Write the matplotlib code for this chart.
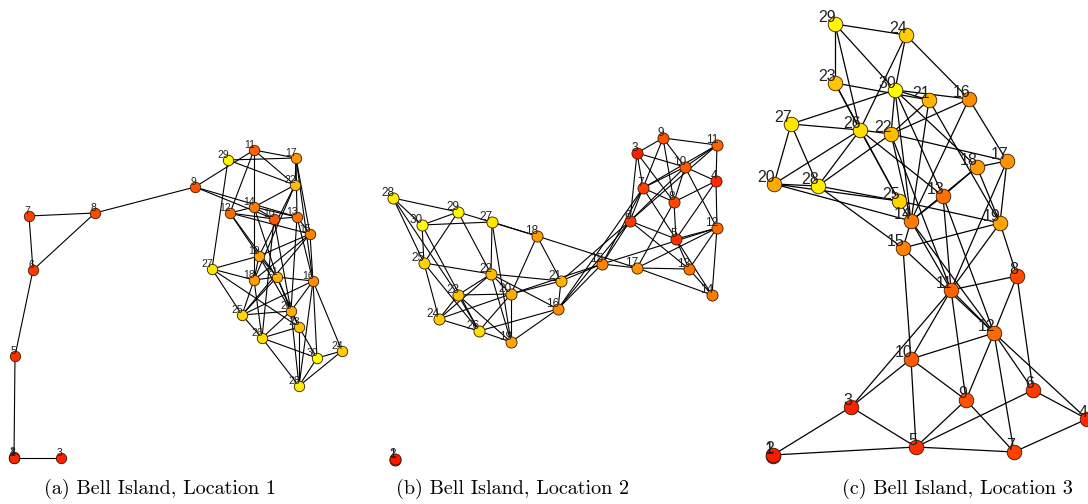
import matplotlib
matplotlib.use("Agg")
import matplotlib.pyplot as plt
from matplotlib.collections import LineCollection

# node positions (pixel layout), node id -> (x, y)
pos_a = {
    1: (14, 458), 2: (14, 457), 3: (61, 458), 4: (14, 458), 5: (15, 356),
    6: (33, 270), 7: (29, 216), 8: (95, 213), 9: (195, 187), 10: (274, 219),
    11: (254, 150), 12: (230, 213), 13: (297, 217), 14: (254, 207), 15: (310, 234),
    16: (313, 281), 17: (296, 158), 18: (254, 280), 19: (259, 256), 20: (291, 311),
    21: (277, 277), 22: (295, 185), 23: (299, 327), 24: (342, 351), 25: (242, 315),
    26: (262, 338), 27: (212, 269), 28: (299, 386), 29: (228, 160), 30: (317, 358),
}
edges_a = [
    (1, 3), (1, 5), (5, 6), (6, 7), (6, 8), (7, 8), (8, 9), (9, 11), (9, 10), (9, 13),
    (11, 17), (29, 17), (29, 22), (29, 27), (11, 14), (11, 12), (11, 22), (17, 22),
    (17, 15), (17, 13), (17, 16), (22, 14), (22, 19), (22, 18), (12, 14), (12, 10),
    (12, 15), (12, 19), (12, 21), (14, 10), (14, 13), (14, 18), (14, 21), (10, 13),
    (10, 20), (10, 26), (13, 15), (13, 16), (13, 20), (15, 19), (15, 16), (15, 18),
    (15, 25), (19, 27), (19, 18), (19, 21), (19, 20), (27, 18), (27, 25), (27, 23),
    (18, 21), (18, 25), (18, 26), (21, 16), (21, 20), (21, 25), (21, 23), (16, 20),
    (16, 25), (16, 30), (16, 24), (16, 28), (25, 26), (25, 20), (20, 23), (20, 26),
    (20, 28), (26, 23), (26, 30), (26, 28), (23, 30), (23, 28), (30, 24), (30, 28),
    (28, 24),
]

pos_b = {
    1: (395, 460), 2: (395, 459), 3: (637, 153), 4: (716, 181), 5: (676, 239),
    6: (630, 221), 7: (643, 188), 8: (674, 202), 9: (663, 138), 10: (685, 167),
    11: (717, 145), 12: (717, 228), 13: (689, 269), 14: (712, 295), 15: (602, 264),
    16: (558, 309), 17: (637, 268), 18: (537, 236), 19: (511, 342), 20: (511, 294),
    21: (561, 281), 22: (491, 274), 23: (458, 295), 24: (439, 319), 25: (424, 263),
    26: (479, 331), 27: (492, 222), 28: (393, 198), 29: (458, 212), 30: (422, 225),
}
edges_b = [
    (28, 29), (29, 18), (27, 18), (28, 30), (28, 25), (28, 23), (30, 29), (30, 27),
    (30, 25), (30, 26), (29, 25), (29, 22), (27, 22), (27, 19), (18, 21), (18, 20),
    (18, 17), (25, 22), (22, 21), (25, 24), (25, 26), (22, 23), (22, 24), (22, 20),
    (22, 16), (22, 19), (23, 20), (23, 24), (23, 26), (23, 19), (24, 26), (24, 20),
    (26, 16), (26, 19), (26, 20), (20, 21), (20, 19), (20, 15), (19, 16), (21, 16),
    (21, 15), (21, 6), (16, 15), (16, 6), (16, 7), (15, 17), (15, 12), (15, 6),
    (15, 7), (17, 13), (17, 12), (17, 14), (17, 8), (13, 5), (13, 12), (13, 14),
    (13, 6), (14, 12), (14, 5), (12, 4), (12, 5), (12, 10), (5, 8), (5, 7), (5, 6),
    (5, 4), (6, 3), (6, 7), (6, 10), (6, 11), (7, 3), (7, 9), (7, 8), (7, 11),
    (7, 10), (8, 3), (8, 9), (8, 10), (8, 4), (3, 9), (3, 10), (9, 10), (9, 11),
    (10, 11), (10, 4), (11, 4),
]

pos_c = {
    1: (773, 456), 2: (773, 455), 3: (851, 407), 4: (1087, 419), 5: (916, 447),
    6: (1033, 390), 7: (1014, 452), 8: (1017, 276), 9: (966, 400), 10: (911, 359),
    11: (951, 290), 12: (994, 333), 13: (943, 196), 14: (911, 221), 15: (903, 248),
    16: (969, 99), 17: (1007, 161), 18: (977, 167), 19: (1000, 223), 20: (774, 184),
    21: (929, 100), 22: (891, 134), 23: (835, 83), 24: (906, 35), 25: (899, 201),
    26: (860, 130), 27: (791, 124), 28: (818, 186), 29: (835, 24), 30: (895, 90),
}
edges_c = [
    (29, 24), (29, 23), (29, 26), (29, 30), (24, 30), (24, 26), (24, 16), (23, 26),
    (23, 21), (23, 25), (30, 27), (30, 22), (30, 21), (30, 16), (30, 13), (30, 18),
    (30, 14), (21, 22), (21, 14), (21, 19), (16, 22), (16, 17), (16, 14), (27, 26),
    (27, 20), (27, 28), (26, 22), (26, 28), (26, 20), (26, 25), (26, 13), (22, 28),
    (22, 17), (22, 14), (22, 11), (20, 28), (20, 25), (20, 14), (28, 25), (28, 15),
    (18, 17), (18, 19), (18, 14), (18, 13), (17, 19), (17, 11), (25, 14), (25, 19),
    (13, 14), (13, 11), (13, 12), (14, 15), (14, 12), (14, 11), (19, 15), (19, 8),
    (19, 11), (15, 10), (15, 12), (11, 8), (11, 10), (11, 12), (11, 9), (11, 3),
    (8, 12), (8, 6), (12, 10), (12, 9), (12, 6), (12, 7), (12, 4), (10, 3), (10, 5),
    (10, 9), (3, 2), (3, 5), (9, 5), (9, 7), (6, 5), (6, 4), (5, 2), (5, 7), (7, 4),
]

captions = ["(a) Bell Island, Location 1", "(b) Bell Island, Location 2",
            "(c) Bell Island, Location 3"]
caption_x = [160, 512, 957]


def node_color(i, n=30):
    t = (i - 1) / (n - 1)
    return (1.0, 0.06 + 0.94 * t, 0.0)


def draw_graph(ax, pos, edges, msize, fsize, lw):
    segs = [(pos[u], pos[v]) for u, v in edges]
    ax.add_collection(LineCollection(segs, colors='black', linewidths=lw, zorder=1))
    for i in sorted(pos):
        x, y = pos[i]
        ax.plot(x, y, 'o', ms=msize, mfc=node_color(i), mec='#3a1a00',
                mew=0.6, zorder=2)
    for i in sorted(pos):
        x, y = pos[i]
        ax.text(x + 1, y - 2, str(i), ha='right', va='baseline',
                fontsize=fsize, color='#222222', zorder=3,
                family=['Liberation Sans', 'DejaVu Sans'])


fig = plt.figure(figsize=(10.88, 5.04), dpi=100)
ax = fig.add_axes([0, 0, 1, 1])
ax.set_xlim(0, 1088)
ax.set_ylim(504, 0)
ax.axis('off')

draw_graph(ax, pos_a, edges_a, 7.5, 7.5, 0.8)
draw_graph(ax, pos_b, edges_b, 8.0, 8.5, 0.8)
draw_graph(ax, pos_c, edges_c, 10.5, 11.5, 0.9)

for x, s in zip(caption_x, captions):
    ax.text(x, 489, s, ha='center', va='center', fontsize=14.5, family='cmr10')

fig.savefig('out.png', dpi=100)
